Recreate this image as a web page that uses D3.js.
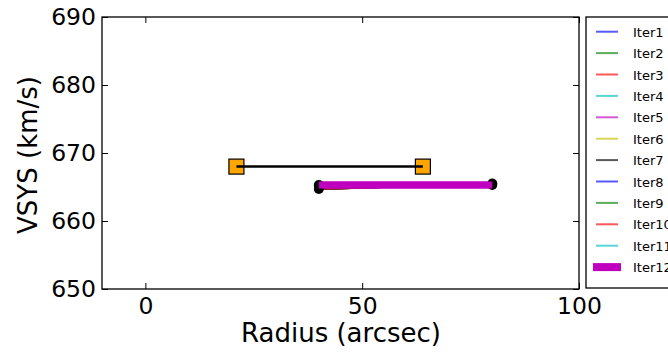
<!DOCTYPE html>
<html>
<head>
<meta charset="utf-8">
<script src="https://cdn.jsdelivr.net/npm/d3@7"></script>
<style>
  html, body { margin: 0; padding: 0; background: #fff; }
  svg { display: block; font-family: "DejaVu Sans", sans-serif; }
</style>
</head>
<body>
<svg id="chart" width="668" height="352"></svg>
<script>
// Systemic velocity per fitting iteration
const iterNames = ["Iter1","Iter2","Iter3","Iter4","Iter5","Iter6","Iter7","Iter8","Iter9","Iter10","Iter11","Iter12"];
const iterColors = ["#0000ff","#008000","#ff0000","#00bfbf","#bf00bf","#bfbf00","#000000","#0000ff","#008000","#ff0000","#00bfbf","#bf00bf"];
const iterRadius = [40, 80];
const iterVsys = [
  [664.7, 665.5], [664.7, 665.5], [664.7, 665.5], [664.7, 665.5],
  [664.7, 665.5], [664.7, 665.5], [664.7, 665.5], [664.7, 665.5],
  [664.7, 665.5], [664.7, 665.4], [665.3, 665.3], [665.3, 665.3]
];
// Initial guess (orange squares joined by a black line)
const guessRadius = [21, 64];
const guessVsys = [668, 668];

const xTicks = [0, 50, 100];
const yTicks = [650, 660, 670, 680, 690];

const svg = d3.select("#chart");
const pLeft = 102, pRight = 579, pTop = 17, pBottom = 289;

const x = d3.scaleLinear().domain([-10, 100]).range([pLeft, pRight]);
const y = d3.scaleLinear().domain([650, 690]).range([pBottom, pTop]);

const plot = svg.append("g");
plot.append("clipPath").attr("id", "clip")
  .append("rect").attr("x", pLeft).attr("y", pTop).attr("width", pRight - pLeft).attr("height", pBottom - pTop);

const line = d3.line().x(d => x(d[0])).y(d => y(d[1]));
const g = plot.append("g").attr("clip-path", "url(#clip)");

// Iteration lines
iterVsys.forEach((v, i) => {
  const pts = iterRadius.map((r, k) => [r, v[k]]);
  const last = i === iterVsys.length - 1;
  g.append("path").datum(pts)
    .attr("d", line)
    .attr("fill", "none")
    .attr("stroke", iterColors[i])
    .attr("stroke-opacity", last ? 1 : 0.65)
    .attr("stroke-width", last ? 7 : 2);
});

// Black dots at iteration points
const dots = [];
[iterVsys[0], iterVsys[iterVsys.length - 1]].forEach(v => iterRadius.forEach((r, k) => dots.push([r, v[k]])));
g.selectAll("circle.pt").data(dots).enter().append("circle")
  .attr("class", "pt")
  .attr("cx", d => x(d[0])).attr("cy", d => y(d[1])).attr("r", 5)
  .attr("fill", "#000");
// Redraw the final iteration over the dots
g.append("path").datum(iterRadius.map((r, k) => [r, iterVsys[11][k]]))
  .attr("d", line).attr("fill", "none")
  .attr("stroke", iterColors[11]).attr("stroke-width", 7);

// Initial guess
const guess = guessRadius.map((r, k) => [r, guessVsys[k]]);
g.selectAll("rect.sq").data(guess).enter().append("rect")
  .attr("class", "sq")
  .attr("x", d => x(d[0]) - 7.5).attr("y", d => y(d[1]) - 7.5)
  .attr("width", 15).attr("height", 15)
  .attr("fill", "#ffa500").attr("stroke", "#000").attr("stroke-width", 1.2);
g.append("path").datum(guess).attr("d", line)
  .attr("fill", "none").attr("stroke", "#000").attr("stroke-width", 2.5);

// Axes with inward ticks on all sides
const tickLen = 6;
const axB = d3.axisBottom(x).tickValues(xTicks).tickSize(-tickLen).tickPadding(8).tickFormat(d3.format("d"));
const axT = d3.axisTop(x).tickValues(xTicks).tickSize(-tickLen).tickFormat("");
const axL = d3.axisLeft(y).tickValues(yTicks).tickSize(-tickLen).tickPadding(6).tickFormat(d3.format("d"));
const axR = d3.axisRight(y).tickValues(yTicks).tickSize(-tickLen).tickFormat("");

function style(sel) {
  sel.select(".domain").remove();
  sel.selectAll("line").attr("stroke", "#000").attr("stroke-width", 1);
  sel.selectAll("text").attr("font-size", 23.5).attr("fill", "#000").attr("font-family", "DejaVu Sans");
}
svg.append("g").attr("transform", `translate(0,${pBottom})`).call(axB).call(style);
svg.append("g").attr("transform", `translate(0,${pTop})`).call(axT).call(style);
svg.append("g").attr("transform", `translate(${pLeft},0)`).call(axL).call(style);
svg.append("g").attr("transform", `translate(${pRight},0)`).call(axR).call(style);

svg.append("rect").attr("x", pLeft).attr("y", pTop).attr("width", pRight - pLeft).attr("height", pBottom - pTop)
  .attr("fill", "none").attr("stroke", "#000").attr("stroke-width", 1.3);

// Axis titles
svg.append("text").attr("x", 341).attr("y", 342)
  .attr("text-anchor", "middle").attr("font-size", 26).text("Radius (arcsec)");
svg.append("text").attr("transform", `translate(37,155) rotate(-90)`)
  .attr("text-anchor", "middle").attr("font-size", 26).text("VSYS (km/s)");

// Legend
const lg = svg.append("g");
lg.append("rect").attr("x", 586).attr("y", 17).attr("width", 100).attr("height", 271)
  .attr("fill", "#fff").attr("stroke", "#000").attr("stroke-width", 1.3);
iterNames.forEach((name, i) => {
  const yy = 31.7 + i * 21.4;
  const last = i === iterNames.length - 1;
  lg.append("line").attr("x1", last ? 593 : 596).attr("x2", last ? 621 : 618)
    .attr("y1", yy).attr("y2", yy)
    .attr("stroke", iterColors[i]).attr("stroke-opacity", last ? 1 : 0.65)
    .attr("stroke-width", last ? 8 : 2);
  lg.append("text").attr("x", 633).attr("y", yy + 5).attr("font-size", 13).attr("fill", "#000").text(name);
});
</script>
</body>
</html>
